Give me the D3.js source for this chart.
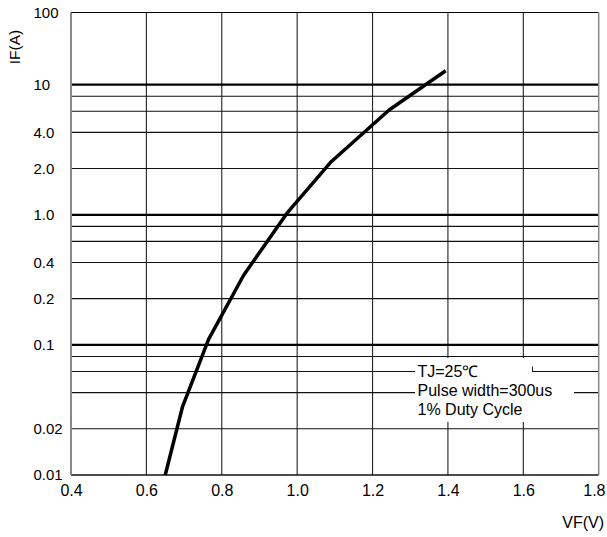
<!DOCTYPE html>
<html><head><meta charset="utf-8">
<script src="https://cdn.jsdelivr.net/npm/d3@7"></script>
<style>
html,body{margin:0;padding:0;background:#fff;}
svg{display:block;font-family:"Liberation Sans",Arial,sans-serif;}
</style></head>
<body>
<script>
// ---- data ----
const vf = [0.65, 0.696, 0.765, 0.858, 0.973, 1.091, 1.244, 1.394];
const ifA = [0.01, 0.0306, 0.1085, 0.313, 1.025, 2.29, 6.15, 15.6];
const xTicks = [0.4, 0.6, 0.8, 1.0, 1.2, 1.4, 1.6, 1.8];
const yTickValues = [100, 10, 4, 2, 1, 0.4, 0.2, 0.1, 0.02, 0.01];
const yTickLabels = ["100", "10", "4.0", "2.0", "1.0", "0.4", "0.2", "0.1", "0.02", "0.01"];
const yGridMinor = [8, 6, 4, 2, 0.8, 0.6, 0.4, 0.2, 0.08, 0.06, 0.04, 0.02];
const yGridMajor = [10, 1, 0.1];
const notes = ["TJ=25\u2103", "Pulse width=300us", "1% Duty Cycle"];

const W = 607, H = 537;
const L = 71, R = 598.7, T = 12.5, B = 475;

const svg = d3.select("body").append("svg").attr("width", W).attr("height", H);

const x = d3.scaleLinear().domain([0.4, 1.8]).range([L, R]);
// the chart's log grid: each decade is 130.1 px, with the "x2" line at 0.356 of a decade
const dec = 130.1, two = 0.356 * dec, top10 = B - 3 * dec;
const y = d3.scaleLog()
  .domain([0.01, 0.02, 0.1, 0.2, 1, 2, 10, 100])
  .range([B, B - two, B - dec, B - dec - two, B - 2 * dec, B - 2 * dec - two, top10, T]);

// vertical grid
svg.append("g").selectAll("line").data(xTicks.slice(1, -1)).join("line")
  .attr("x1", d => x(d)).attr("x2", d => x(d)).attr("y1", T).attr("y2", B)
  .attr("stroke", "#222").attr("stroke-width", 1.1);

// horizontal grid
svg.append("g").selectAll("line").data(yGridMinor).join("line")
  .attr("x1", L).attr("x2", R).attr("y1", d => y(d)).attr("y2", d => y(d))
  .attr("stroke", "#111").attr("stroke-width", 1.1);
svg.append("g").selectAll("line").data(yGridMajor).join("line")
  .attr("x1", L).attr("x2", R).attr("y1", d => y(d)).attr("y2", d => y(d))
  .attr("stroke", "#000").attr("stroke-width", 2.2);

// frame
svg.append("line").attr("x1", L).attr("x2", R).attr("y1", y(100)).attr("y2", y(100)).attr("stroke", "#000").attr("stroke-width", 1.1);
svg.append("line").attr("x1", L).attr("x2", R).attr("y1", y(0.01)).attr("y2", y(0.01)).attr("stroke", "#111").attr("stroke-width", 1.5);
svg.append("line").attr("x1", x(0.4)).attr("x2", x(0.4)).attr("y1", T).attr("y2", B).attr("stroke", "#888").attr("stroke-width", 2);
svg.append("line").attr("x1", x(1.8)).attr("x2", x(1.8)).attr("y1", T).attr("y2", B).attr("stroke", "#888").attr("stroke-width", 1.5);

// annotation background boxes
const noteL = 415;
svg.append("rect").attr("x", noteL).attr("y", y(0.08) + 1.5)
  .attr("width", 532 - noteL).attr("height", 381 - y(0.08) - 1.5).attr("fill", "#fff");
svg.append("rect").attr("x", noteL).attr("y", 381)
  .attr("width", 574 - noteL).attr("height", 422 - 381).attr("fill", "#fff");
svg.append("line").attr("x1", 532.5).attr("x2", 532.5).attr("y1", y(0.06) - 5).attr("y2", y(0.06))
  .attr("stroke", "#222").attr("stroke-width", 1);

svg.append("g").selectAll("text").data(notes).join("text")
  .attr("x", 417.5).attr("y", (d, i) => 377.4 + i * 18.7)
  .attr("font-size", 16).attr("fill", "#000").text(d => d);

// curve
svg.append("path")
  .datum(vf.map((v, i) => [v, ifA[i]]))
  .attr("fill", "none").attr("stroke", "#000").attr("stroke-width", 3.5)
  .attr("stroke-linejoin", "round")
  .attr("d", d3.line().x(d => x(d[0])).y(d => y(d[1])));

// axes labels
const xAxis = svg.append("g").attr("transform", `translate(0,${B})`)
  .call(d3.axisBottom(x).tickValues(xTicks).tickFormat(d3.format(".1f")).tickSize(0).tickPadding(9.5));
xAxis.select(".domain").remove();
xAxis.selectAll("text").attr("font-size", 16).attr("font-family", "Liberation Sans, Arial, sans-serif").attr("fill", "#000");
xAxis.selectAll(".tick").filter(d => d === 1.8).select("text")
  .attr("text-anchor", "end").attr("x", 605 - x(1.8));

const yAxis = svg.append("g").attr("transform", `translate(${L},0)`)
  .call(d3.axisLeft(y).tickValues(yTickValues).tickFormat((d, i) => yTickLabels[i]).tickSize(0));
yAxis.select(".domain").remove();
yAxis.selectAll("text").attr("text-anchor", "start").attr("x", 33.5 - L)
  .attr("font-size", 15).attr("font-family", "Liberation Sans, Arial, sans-serif").attr("fill", "#000");

svg.append("text").attr("transform", "translate(20,47) rotate(-90)")
  .attr("text-anchor", "middle").attr("font-size", 15.5).text("IF(A)");
svg.append("text").attr("x", 604).attr("y", 528)
  .attr("text-anchor", "end").attr("font-size", 16).text("VF(V)");
</script>
</body></html>
